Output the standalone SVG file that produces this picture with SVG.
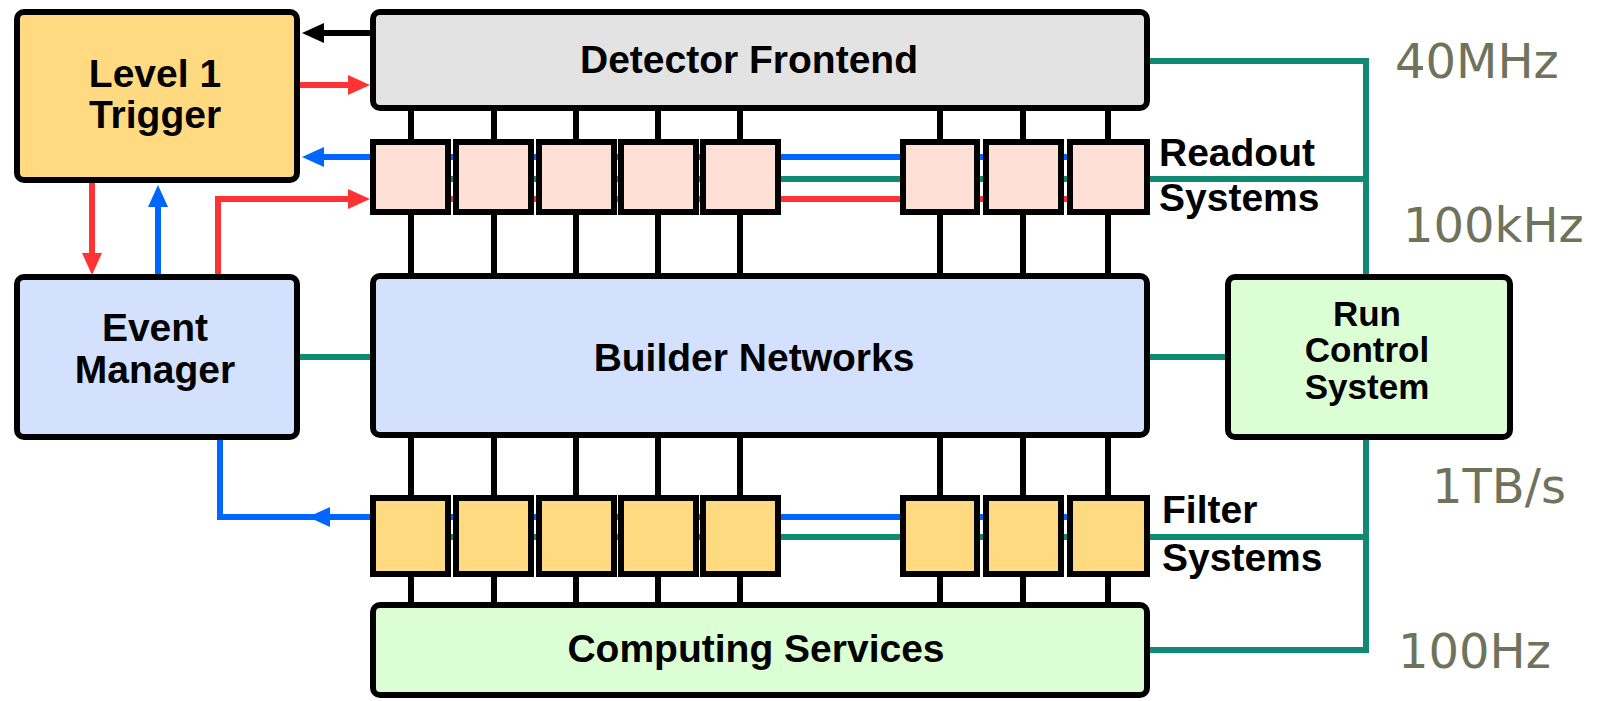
<svg xmlns="http://www.w3.org/2000/svg" width="1597" height="701" viewBox="0 0 1597 701">
<style>
.box{stroke:#000;stroke-width:6}
.l1{fill:#ffda80}
.det{fill:#e3e3e3}
.ro{fill:#ffe0d6}
.fl{fill:#ffda80}
.blue{fill:#d3e1fe}
.grn{fill:#dcfed5}
.lbl{font-family:"Liberation Sans",Arial,sans-serif;font-weight:bold;font-size:39px;fill:#000}
.rc{font-size:35px}
.mid{text-anchor:middle}
.rate{font-family:"DejaVu Sans",Verdana,sans-serif;font-size:48px;fill:#70735c}
.blk{stroke:#000;stroke-width:6;fill:none}
.cb{stroke:#0066ff;stroke-width:6;fill:none}
.cr{stroke:#ff3333;stroke-width:6;fill:none}
.cg{stroke:#108a73;stroke-width:6;fill:none}
</style>
<defs>
<marker id="ab" markerUnits="userSpaceOnUse" markerWidth="24" markerHeight="22" refX="2" refY="10" orient="auto"><path d="M0,0 L22,10 L0,20 z" fill="#0066ff"/></marker>
<marker id="ar" markerUnits="userSpaceOnUse" markerWidth="24" markerHeight="22" refX="2" refY="10" orient="auto"><path d="M0,0 L22,10 L0,20 z" fill="#ff3333"/></marker>
<marker id="ak" markerUnits="userSpaceOnUse" markerWidth="24" markerHeight="22" refX="2" refY="10" orient="auto"><path d="M0,0 L22,10 L0,20 z" fill="#000"/></marker>
</defs>
<rect width="1597" height="701" fill="#fff"/>
<g id="connectors">
<path class="blk" d="M411,105 V280 M494,105 V280 M576,105 V280 M658,105 V280 M740,105 V280 M940,105 V280 M1023,105 V280 M1108,105 V280"/>
<path class="blk" d="M411,432 V608 M494,432 V608 M576,432 V608 M658,432 V608 M740,432 V608 M940,432 V608 M1023,432 V608 M1108,432 V608"/>
<path class="cb" d="M1148,157 H322" marker-end="url(#ab)"/>
<path class="cg" d="M372,179 H1366"/>
<path class="cr" d="M1148,199 H372"/>
<path class="cr" d="M218,274 V199 H350" marker-end="url(#ar)"/>
<path class="blk" d="M372,33 H322" marker-end="url(#ak)"/>
<path class="cr" d="M300,85 H350" marker-end="url(#ar)"/>
<path class="cr" d="M92,183 V255" marker-end="url(#ar)"/>
<path class="cb" d="M158,274 V205" marker-end="url(#ab)"/>
<path class="cb" d="M1148,517 H220 V440"/>
<path class="cb" d="M340,517 H328" marker-end="url(#ab)"/>
<path class="cg" d="M372,537 H1366"/>
<path class="cg" d="M300,357 H372"/>
<path class="cg" d="M1150,357 H1228"/>
<path class="cg" d="M1150,61 H1366 V276"/>
<path class="cg" d="M1366,438 V650 H1150"/>
</g>
<g id="level1-trigger">
<rect class="box l1" x="17" y="12" width="280" height="168" rx="7"/>
<text class="lbl mid" x="155" y="87">Level 1</text>
<text class="lbl mid" x="155" y="128">Trigger</text>
</g>
<g id="detector-frontend">
<rect class="box det" x="373" y="12" width="774" height="96" rx="7"/>
<text class="lbl mid" x="749" y="73">Detector Frontend</text>
</g>
<g id="readout-systems">
<rect class="box ro" x="373" y="142" width="75" height="70"/>
<rect class="box ro" x="456" y="142" width="75" height="70"/>
<rect class="box ro" x="539" y="142" width="75" height="70"/>
<rect class="box ro" x="621" y="142" width="75" height="70"/>
<rect class="box ro" x="703" y="142" width="75" height="70"/>
<rect class="box ro" x="903" y="142" width="74" height="70"/>
<rect class="box ro" x="986" y="142" width="75" height="70"/>
<rect class="box ro" x="1070" y="142" width="77" height="70"/>
<text class="lbl" x="1159" y="166">Readout</text>
<text class="lbl" x="1159" y="211">Systems</text>
</g>
<g id="event-manager">
<rect class="box blue" x="17" y="277" width="280" height="160" rx="7"/>
<text class="lbl mid" x="155" y="341">Event</text>
<text class="lbl mid" x="155" y="383">Manager</text>
</g>
<g id="builder-networks">
<rect class="box blue" x="373" y="276" width="774" height="159" rx="7"/>
<text class="lbl mid" x="754" y="371">Builder Networks</text>
</g>
<g id="run-control-system">
<rect class="box grn" x="1228" y="277" width="282" height="160" rx="7"/>
<text class="lbl rc mid" x="1367" y="326">Run</text>
<text class="lbl rc mid" x="1367" y="362">Control</text>
<text class="lbl rc mid" x="1367" y="399">System</text>
</g>
<g id="filter-systems">
<rect class="box fl" x="373" y="498" width="75" height="76"/>
<rect class="box fl" x="456" y="498" width="75" height="76"/>
<rect class="box fl" x="539" y="498" width="75" height="76"/>
<rect class="box fl" x="621" y="498" width="75" height="76"/>
<rect class="box fl" x="703" y="498" width="75" height="76"/>
<rect class="box fl" x="903" y="498" width="74" height="76"/>
<rect class="box fl" x="986" y="498" width="75" height="76"/>
<rect class="box fl" x="1070" y="498" width="77" height="76"/>
<text class="lbl" x="1162" y="523">Filter</text>
<text class="lbl" x="1162" y="571">Systems</text>
</g>
<g id="computing-services">
<rect class="box grn" x="373" y="605" width="774" height="90" rx="7"/>
<text class="lbl mid" x="756" y="662">Computing Services</text>
</g>
<g id="rates">
<text class="rate" x="1395" y="78">40MHz</text>
<text class="rate" x="1403" y="242">100kHz</text>
<text class="rate" x="1432" y="503">1TB/s</text>
<text class="rate" x="1398" y="668">100Hz</text>
</g>
</svg>
